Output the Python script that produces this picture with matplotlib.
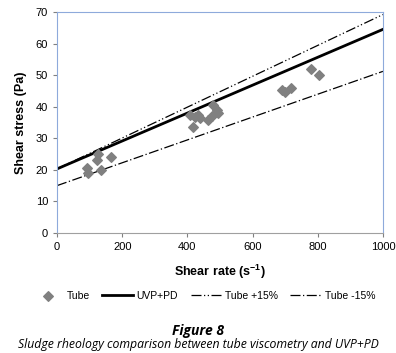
import matplotlib.pyplot as plt
import numpy as np

plt.rcParams['font.family'] = ['Liberation Sans', 'DejaVu Sans']

# tube viscometry measurements
tube_rate = [92, 95, 123, 125, 135, 165,
             408, 417, 423, 432, 440, 463, 475, 480, 491, 494,
             690, 700, 718, 779, 804]
tube_stress = [20.5, 19, 23, 25, 20, 24,
               37.4, 33.6, 36.7, 37.4, 36.5, 35.8, 37, 40.5, 39, 38,
               45.3, 44.8, 45.9, 52, 50]

# fitted lines (end points)
line_x = [0, 1000]
uvp_pd = [20.3, 64.5]
tube_plus = [20.3, 69.2]
tube_minus = [15.0, 51.2]

fig = plt.figure(figsize=(3.96, 3.53), dpi=100)
ax = fig.add_axes([0.144, 0.34, 0.823, 0.626])

ax.scatter(tube_rate, tube_stress, marker='D', s=24, color='#808080', label='Tube', zorder=3)
ax.plot(line_x, uvp_pd, color='black', lw=2, label='UVP+PD')
ax.plot(line_x, tube_plus, color='black', lw=0.9, dashes=[8, 2, 1, 2, 1, 2], label='Tube +15%')
ax.plot(line_x, tube_minus, color='black', lw=0.9, dashes=[8, 2, 1, 2], label='Tube -15%')

ax.set_xlim(0, 1000)
ax.set_ylim(0, 70)
ax.set_xticks(np.arange(0, 1001, 200))
ax.set_yticks(np.arange(0, 71, 10))
ax.tick_params(labelsize=8, color='#808080', length=3)
for s in ax.spines.values():
    s.set_color('#8eaadb')
ax.spines['bottom'].set_color('#a0a0a0')

ax.set_xlabel('Shear rate (s$^{\\mathregular{-1}}$)', fontsize=9, fontweight='bold', labelpad=8)
ax.set_ylabel('Shear stress (Pa)', fontsize=9, fontweight='bold', labelpad=6)

ax.legend(loc='center', bbox_to_anchor=(0.45, -0.285), ncol=4, frameon=False,
          fontsize=7.5, handlelength=3, columnspacing=1.2, handletextpad=0.3)

fig.text(0.5, 0.062, 'Figure 8', ha='center', va='center', fontsize=10, fontweight='bold',
         style='italic', family=['Open Sans', 'DejaVu Sans'])
fig.text(0.5, 0.023, 'Sludge rheology comparison between tube viscometry and UVP+PD',
         ha='center', va='center', fontsize=8.8, style='italic', family=['Open Sans', 'DejaVu Sans'])

fig.savefig('out.png', dpi=100)
